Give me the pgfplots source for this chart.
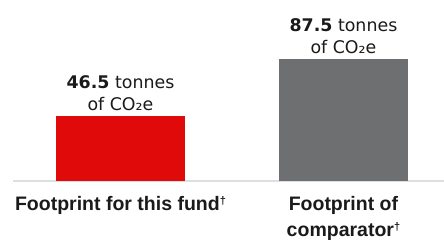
\documentclass[border=0pt]{standalone}
\usepackage{pgfplots}
\pgfplotsset{compat=1.18}
\usepackage{fontspec}
\setmainfont{Liberation Sans}
\newfontfamily\valfont{DejaVu Sans}
\definecolor{barred}{RGB}{224,10,11}
\definecolor{bargray}{RGB}{109,111,113}
\definecolor{baseln}{RGB}{221,224,227}
\definecolor{txt}{RGB}{26,26,26}
\newcommand{\mydag}{\raisebox{6pt}{\fontsize{11}{11}\selectfont †}}
\begin{document}
\begin{tikzpicture}
\begin{axis}[
  at={(0pt,0pt)}, anchor=south west,
  scale only axis, width=431pt, height=181pt,
  xmin=-0.482, xmax=1.451, ymin=0, ymax=130.2,
  axis x line=bottom, axis y line=none,
  x axis line style={draw=baseln, line width=2pt, -},
  ybar, bar width=129pt,
  xtick={0,1}, ytick=\empty,
  major tick length=0pt,
  xticklabels={\raisebox{6pt}{Footprint for this fund\mydag}, {Footprint of\\comparator\mydag}},
  xticklabel style={font=\bfseries\fontsize{19.5}{26}\selectfont, text=txt, align=center, anchor=north, yshift=-12pt},
  every node near coord/.append style={font=\valfont\fontsize{17.4}{22}\selectfont, text=txt, align=center, anchor=south, yshift=2pt},
  clip=false,
]
\addplot[fill=barred, draw=none, bar shift=0pt,
  nodes near coords={\textbf{46.5} tonnes\\of CO₂e}] coordinates {(0,46.5)};
\addplot[fill=bargray, draw=none, bar shift=0pt,
  nodes near coords={\textbf{87.5} tonnes\\of CO₂e}] coordinates {(1,87.5)};
\end{axis}
\pgfresetboundingbox
\useasboundingbox (-13pt,-59pt) rectangle (431pt,181pt);
\end{tikzpicture}
\end{document}
